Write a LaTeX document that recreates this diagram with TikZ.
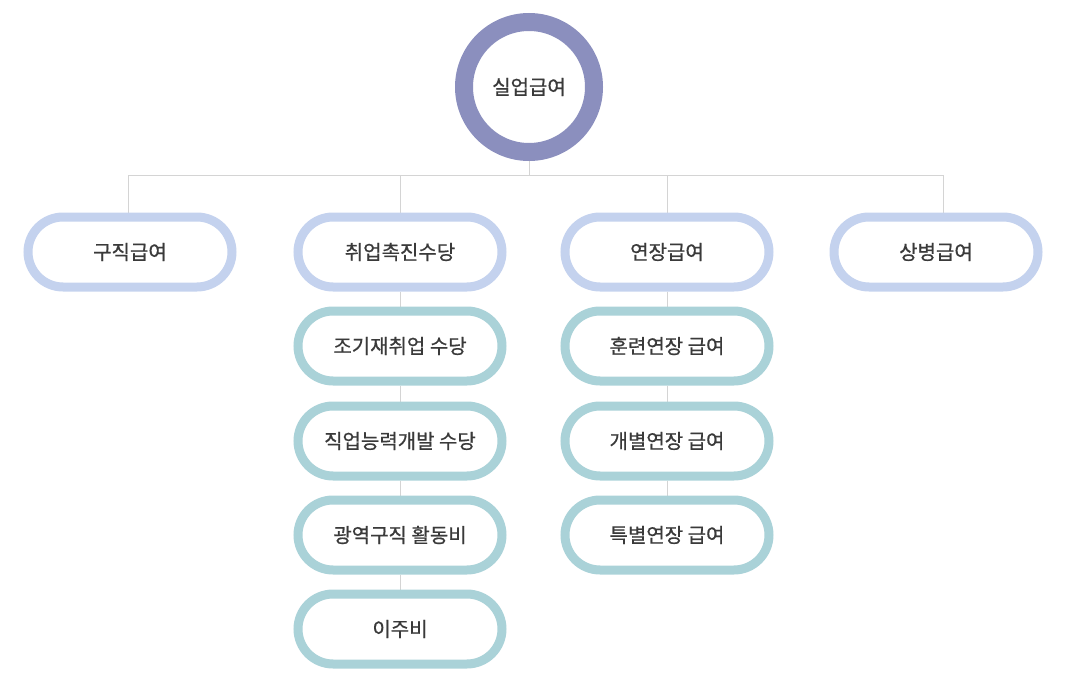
\documentclass[tikz,border=0pt]{standalone}
\usepackage{fontspec}
\setmainfont{Noto Sans CJK KR}[FakeBold=0.7]
\usetikzlibrary{backgrounds}
\definecolor{rootring}{RGB}{139,143,190}
\definecolor{lvlone}{RGB}{196,210,238}
\definecolor{lvltwo}{RGB}{170,210,216}
\definecolor{linkgray}{RGB}{212,212,212}
\definecolor{txt}{RGB}{58,58,58}
\tikzset{
  rootnode/.style={circle, draw=rootring, line width=18pt, fill=white, minimum size=130pt, inner sep=0pt, text=txt, font=\fontsize{20}{24}\selectfont},
  pillbox/.style={rectangle, rounded corners=35pt, line width=9pt, fill=white, minimum width=204pt, minimum height=70pt, inner sep=0pt, text=txt, font=\fontsize{20}{24}\selectfont},
  topbox/.style={pillbox, draw=lvlone},
  subbox/.style={pillbox, draw=lvltwo},
  link/.style={draw=linkgray, line width=1pt}
}
\begin{document}
\begin{tikzpicture}[x=1pt,y=-1pt]
\useasboundingbox (0,0) rectangle (1072,688);
\node[rootnode] (root) at (529,87) {실업급여};
\node[topbox] (a) at (130,252) {구직급여};
\node[topbox] (b) at (400,252) {취업촉진수당};
\node[topbox] (c) at (667,252) {연장급여};
\node[topbox] (d) at (936,252) {상병급여};
\node[subbox] (b1) at (400,346) {조기재취업 수당};
\node[subbox] (b2) at (400,441) {직업능력개발 수당};
\node[subbox] (b3) at (400,535) {광역구직 활동비};
\node[subbox] (b4) at (400,629) {이주비};
\node[subbox] (c1) at (667,346) {훈련연장 급여};
\node[subbox] (c2) at (667,441) {개별연장 급여};
\node[subbox] (c3) at (667,535) {특별연장 급여};
\coordinate (bus) at (529,175);
\begin{scope}[on background layer]
\draw[link] (root.south) -- (bus);
\draw[link] ([xshift=-2pt]a.north) |- (bus);
\draw[link] ([xshift=7pt]d.north) |- (bus);
\draw[link] (b.north) -- (b.north |- bus);
\draw[link] (c.north) -- (c.north |- bus);
\draw[link] (b.south) -- (b1.north);
\draw[link] (b1.south) -- (b2.north);
\draw[link] (b2.south) -- (b3.north);
\draw[link] (b3.south) -- (b4.north);
\draw[link] (c.south) -- (c1.north);
\draw[link] (c1.south) -- (c2.north);
\draw[link] (c2.south) -- (c3.north);
\end{scope}
\end{tikzpicture}
\end{document}
